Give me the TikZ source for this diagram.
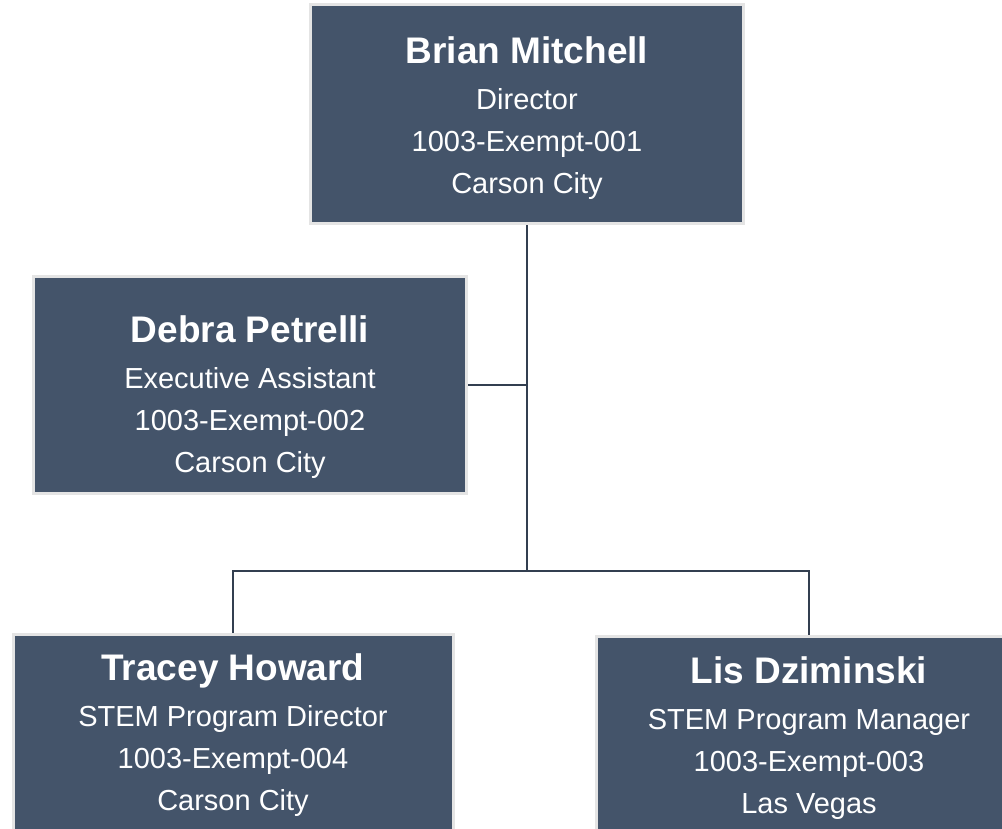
\documentclass[tikz,border=0pt]{standalone}
\usepackage{fontspec}
\setmainfont{Liberation Sans}
\usepackage{tikz}

\definecolor{cardfill}{HTML}{44546A}
\definecolor{cardedge}{HTML}{E4E4E4}
\definecolor{linkcol}{HTML}{333F50}

\begin{document}
\begin{tikzpicture}[x=1pt,y=-1pt]
\tikzstyle{card}=[rectangle, fill=cardfill, draw=cardedge, line width=3pt, inner sep=0pt]
\tikzstyle{cardtext}=[text=white, align=center, anchor=north, inner sep=0pt, font=\fontsize{29}{42}\selectfont]
\tikzstyle{link}=[draw=linkcol, line width=2pt]

\useasboundingbox (0,0) rectangle (1002,828);

\node (dir) at (527,113.75) [card, minimum width=433pt, minimum height=219.5pt] {};
\node (ea) at (250,385) [card, minimum width=433pt, minimum height=217pt] {};
\node (spd) at (233,754.5) [card, minimum width=440pt, minimum height=240pt] {};
\node (spm) at (809,756.5) [card, minimum width=426pt, minimum height=240pt] {};

\node (dirtxt) at ([yshift=-33.5pt]dir.north) [cardtext] {{\bfseries\fontsize{37}{42}\selectfont Brian Mitchell}\\[4pt] Director\\ 1003-Exempt-001\\ Carson City};
\node (eatxt) at ([yshift=-40pt]ea.north) [cardtext] {{\bfseries\fontsize{37}{42}\selectfont Debra Petrelli}\\[4pt] Executive Assistant\\ 1003-Exempt-002\\ Carson City};
\node (spdtxt) at ([yshift=-20pt]spd.north) [cardtext] {{\bfseries\fontsize{37}{42}\selectfont Tracey Howard}\\[4pt] STEM Program Director\\ 1003-Exempt-004\\ Carson City};
\node (spmtxt) at ([yshift=-21pt]spm.north) [cardtext] {{\bfseries\fontsize{37}{42}\selectfont Lis Dziminski}\\[4pt] STEM Program Manager\\ 1003-Exempt-003\\ Las Vegas};

\coordinate (hub) at (527,571);

\draw[link] (dir) -- (hub);
\draw[link] (ea) -- (ea -| hub);
\draw[link] (spd) |- (hub) -| (spm);
\end{tikzpicture}
\end{document}
